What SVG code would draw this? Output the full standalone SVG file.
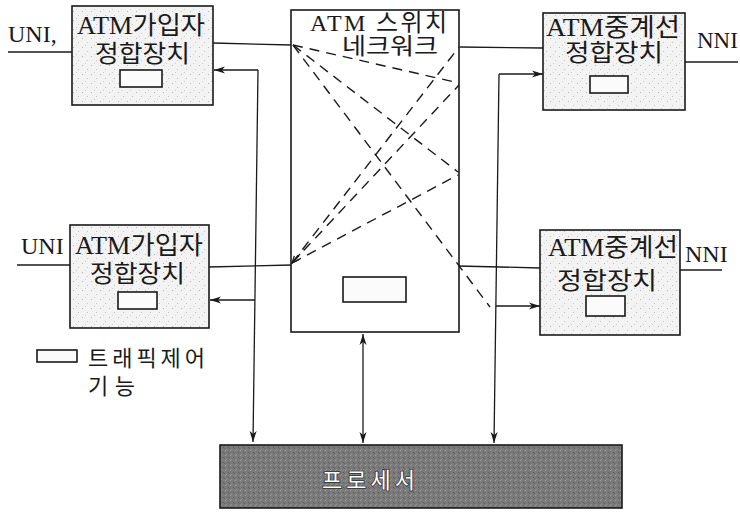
<svg xmlns="http://www.w3.org/2000/svg" width="740" height="513" viewBox="0 0 740 513">
<defs>
<style>
.t{font-family:"Liberation Serif","Noto Sans CJK KR",serif;fill:#1a1a1a;}
.k{font-family:"Noto Sans CJK KR","Liberation Sans",sans-serif;}
.box{fill:url(#stip);stroke:#1a1a1a;stroke-width:1.6;}
.inner{fill:#fbfbfb;stroke:#1a1a1a;stroke-width:1.6;}
.ln{stroke:#1a1a1a;stroke-width:1.3;fill:none;}
.arr{stroke:#1a1a1a;stroke-width:1.3;fill:none;marker-end:url(#ah);}
.dash{stroke:#1a1a1a;stroke-width:1.4;fill:none;stroke-dasharray:10 7;}
</style>
<pattern id="stip" width="9" height="9" patternUnits="userSpaceOnUse">
<rect width="9" height="9" fill="#f3f3f3"/>
<rect x="1" y="2" width="1" height="1" fill="#b8b8b8"/>
<rect x="6" y="6" width="1" height="1" fill="#c4c4c4"/>
<rect x="4" y="0" width="1" height="1" fill="#d0d0d0"/>
</pattern>
<pattern id="dark" width="5" height="5" patternUnits="userSpaceOnUse">
<rect width="5" height="5" fill="#7a7a7a"/>
<rect x="0" y="0" width="1" height="1" fill="#a0a0a0"/>
<rect x="3" y="2" width="1" height="1" fill="#5a5a5a"/>
<rect x="1" y="4" width="1" height="1" fill="#929292"/>
<rect x="4" y="3" width="1" height="1" fill="#666666"/>
</pattern>
<marker id="ah" markerWidth="12" markerHeight="8" refX="11" refY="4" orient="auto" markerUnits="userSpaceOnUse">
<path d="M0,0.5 L11,4 L0,7.5 L3,4 Z" fill="#1a1a1a"/>
</marker>
<marker id="ahs" markerWidth="12" markerHeight="8" refX="1" refY="4" orient="auto" markerUnits="userSpaceOnUse">
<path d="M12,0.5 L1,4 L12,7.5 L9,4 Z" fill="#1a1a1a"/>
</marker>
<marker id="sm" markerWidth="8" markerHeight="8" refX="1" refY="4" orient="auto" markerUnits="userSpaceOnUse">
<path d="M8,1 L1,4 L8,7" fill="none" stroke="#1a1a1a" stroke-width="1.2"/>
</marker>
</defs>

<rect width="740" height="513" fill="#ffffff"/>

<g id="connectors">
<line class="ln" x1="8" y1="52" x2="72" y2="52"/>
<line class="ln" x1="213" y1="43" x2="292" y2="45"/>
<line class="arr" x1="258" y1="70" x2="214" y2="70"/>
<line class="arr" x1="258" y1="70" x2="253" y2="442"/>
<line class="ln" x1="17" y1="265" x2="70" y2="265"/>
<line class="ln" x1="209" y1="267" x2="292" y2="265"/>
<line class="arr" x1="255" y1="300" x2="210" y2="300"/>
<line class="ln" x1="460" y1="47" x2="543" y2="48"/>
<line class="ln" x1="685" y1="62" x2="738" y2="62"/>
<line class="arr" x1="499" y1="74" x2="543" y2="74"/>
<line class="arr" x1="499" y1="74" x2="494" y2="443"/>
<line class="ln" x1="458" y1="266" x2="540" y2="268"/>
<line class="arr" x1="496" y1="306" x2="540" y2="306"/>
<line class="ln" x1="680" y1="270" x2="722" y2="270"/>
<line class="arr" x1="363" y1="334" x2="363" y2="443" marker-start="url(#ahs)"/>
</g>

<g id="switch">
<rect x="291" y="10" width="168" height="322" fill="#ffffff" stroke="#1a1a1a" stroke-width="1.6"/>
<text class="t"><tspan x="310" y="31" font-size="24" textLength="137" lengthAdjust="spacing">ATM 스위치</tspan><tspan class="k" x="342" y="54" font-size="23" textLength="96" lengthAdjust="spacingAndGlyphs">네크워크</tspan></text>
<rect class="inner" x="343" y="277" width="63" height="25"/>
<g id="switch-paths">
<line class="dash" x1="293" y1="45" x2="459" y2="83"/>
<line class="dash" x1="293" y1="45" x2="458" y2="172"/>
<line class="dash" x1="293" y1="45" x2="490" y2="307"/>
<line class="dash" x1="292" y1="263" x2="458" y2="175"/>
<line class="dash" x1="292" y1="263" x2="459" y2="85"/>
<line class="dash" x1="292" y1="263" x2="459" y2="47"/>
<line class="ln" x1="292" y1="263" x2="300" y2="254" marker-start="url(#sm)"/>
</g>
</g>

<g id="sub-top">
<rect class="box" x="72" y="6" width="141" height="99"/>
<text class="t"><tspan x="77" y="34" font-size="25" textLength="128" lengthAdjust="spacingAndGlyphs">ATM가입자</tspan><tspan class="k" x="95" y="62" font-size="24" textLength="95" lengthAdjust="spacingAndGlyphs">정합장치</tspan></text>
<rect class="inner" x="120" y="70" width="42" height="17"/>
</g>
<text class="t" x="8" y="42" font-size="24">UNI,</text>

<g id="sub-bottom">
<rect class="box" x="70" y="225" width="139" height="103"/>
<text class="t"><tspan x="75" y="254" font-size="25" textLength="128" lengthAdjust="spacingAndGlyphs">ATM가입자</tspan><tspan class="k" x="90" y="282" font-size="24" textLength="95" lengthAdjust="spacingAndGlyphs">정합장치</tspan></text>
<rect class="inner" x="118" y="292" width="39" height="17"/>
</g>
<text class="t" x="21" y="254" font-size="24">UNI</text>

<g id="trunk-top">
<rect class="box" x="543" y="13" width="142" height="97"/>
<text class="t"><tspan x="546" y="36" font-size="25" textLength="134" lengthAdjust="spacingAndGlyphs">ATM중계선</tspan><tspan class="k" x="565" y="61" font-size="24" textLength="98" lengthAdjust="spacingAndGlyphs">정합장치</tspan></text>
<rect class="inner" x="590" y="76" width="38" height="17"/>
</g>
<text class="t" x="697" y="48" font-size="23">NNI</text>

<g id="trunk-bottom">
<rect class="box" x="540" y="230" width="140" height="105"/>
<text class="t"><tspan x="548" y="256" font-size="25" textLength="130" lengthAdjust="spacingAndGlyphs">ATM중계선</tspan><tspan class="k" x="557" y="289" font-size="24" textLength="100" lengthAdjust="spacingAndGlyphs">정합장치</tspan></text>
<rect class="inner" x="586" y="296" width="39" height="20"/>
</g>
<text class="t" x="685" y="262" font-size="24">NNI</text>

<g id="legend">
<rect class="inner" x="37" y="350" width="40" height="12"/>
<text class="k" fill="#1a1a1a" font-size="22"><tspan x="88" y="366" textLength="117" lengthAdjust="spacing">트래픽제어</tspan><tspan x="88" y="394" textLength="47" lengthAdjust="spacing">기능</tspan></text>
</g>

<g id="processor">
<rect x="220" y="445" width="402" height="63" fill="url(#dark)" stroke="#1a1a1a" stroke-width="1.6"/>
<text x="322" y="488" font-size="22" textLength="93" lengthAdjust="spacing" font-family="Noto Sans CJK KR, sans-serif" fill="#ffffff" stroke="#333333" stroke-width="1.6" style="paint-order:stroke">프로세서</text>
</g>
</svg>
